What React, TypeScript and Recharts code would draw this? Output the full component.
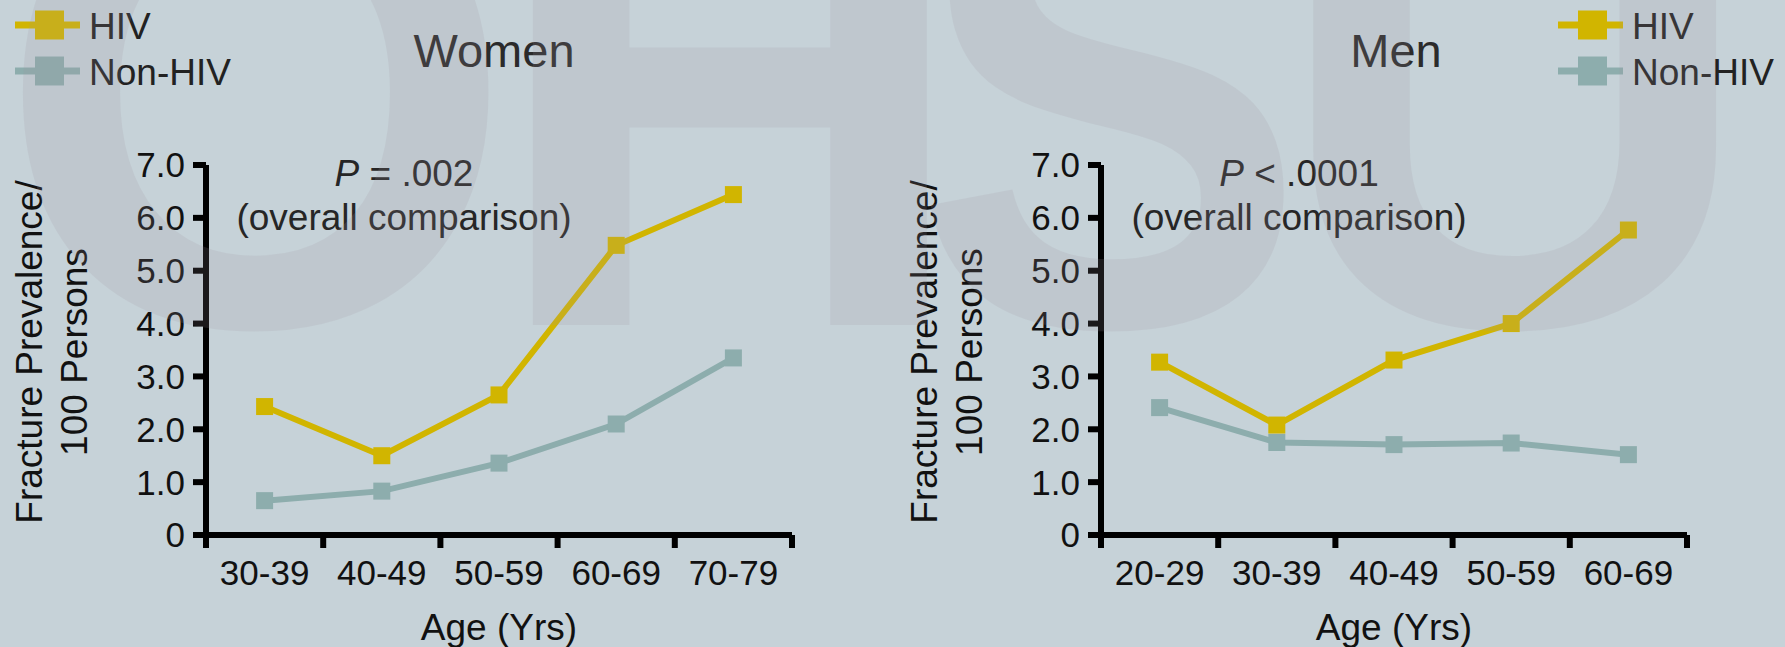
import React from "react";
import { LineChart, Line, XAxis, YAxis, Legend } from "recharts";

const HIV_COLOR = "#d1b500";
const NON_HIV_COLOR = "#8dadad";
const BG = "#c6d2d8";
const FONT = '"Liberation Sans", Arial, Helvetica, sans-serif';

const WOMEN_AGES = ["30-39", "40-49", "50-59", "60-69", "70-79"];
const WOMEN_HIV = [2.43, 1.5, 2.65, 5.48, 6.44];
const WOMEN_NON_HIV = [0.65, 0.83, 1.36, 2.1, 3.35];

const MEN_AGES = ["20-29", "30-39", "40-49", "50-59", "60-69"];
const MEN_HIV = [3.27, 2.08, 3.31, 4.0, 5.77];
const MEN_NON_HIV = [2.41, 1.75, 1.71, 1.74, 1.52];

const Y_TICKS = [0, 1, 2, 3, 4, 5, 6, 7];

const HEIGHT = 647;
const Y_AXIS_W = 206;
const PLOT_W = 586;
const PLOT_TOP = 165;
const X_AXIS_H = 112;
const BAND = PLOT_W / 5;

const toRows = (ages: string[], hiv: number[], nonHiv: number[]) =>
  ages.map((age, i) => ({ age, hiv: hiv[i], nonHiv: nonHiv[i] }));

const squareDot = (color: string) => (props: any) => {
  const { cx, cy, index } = props;
  if (cx == null || cy == null) return <g key={index} />;
  return <rect key={index} x={cx - 8.5} y={cy - 8.5} width={17} height={17} fill={color} />;
};

function AgeTick(props: any) {
  const { x, y, payload, index, last } = props;
  return (
    <g>
      <line x1={x - BAND / 2} x2={x - BAND / 2} y1={y} y2={y + 13} stroke="#000" strokeWidth={6} />
      {index === last && (
        <line x1={x + BAND / 2} x2={x + BAND / 2} y1={y} y2={y + 13} stroke="#000" strokeWidth={6} />
      )}
      <text x={x} y={y + 50} textAnchor="middle" fontSize={35} fontFamily={FONT} fill="#111">
        {payload.value}
      </text>
    </g>
  );
}

const renderLegend = (props: any) => {
  const items = [...(props.payload || [])].sort((a: any, b: any) =>
    a.value === "HIV" ? -1 : b.value === "HIV" ? 1 : 0
  );
  return (
    <div>
      {items.map((item: any) => (
        <div key={item.value} style={{ display: "flex", alignItems: "center", height: 46 }}>
          <svg width={65} height={30} style={{ display: "block" }}>
            <line x1={0} x2={65} y1={15} y2={15} stroke={item.color} strokeWidth={7} />
            <rect x={20} y={0.5} width={29} height={29} fill={item.color} />
          </svg>
          <span
            style={{
              marginLeft: 9,
              fontSize: 37,
              fontFamily: FONT,
              color: "#222",
              lineHeight: "46px",
              position: "relative",
              top: 2,
              whiteSpace: "nowrap",
            }}
          >
            {item.value}
          </span>
        </div>
      ))}
    </div>
  );
};

type PanelProps = {
  ages: string[];
  hiv: number[];
  nonHiv: number[];
  width: number;
  title: string;
  titleX: number;
  pText: string;
  legendLeft: number;
};

function Panel({ ages, hiv, nonHiv, width, title, titleX, pText, legendLeft }: PanelProps) {
  const data = toRows(ages, hiv, nonHiv);
  const last = ages.length - 1;
  return (
    <div style={{ position: "relative", width, height: HEIGHT }}>
      <LineChart
        width={width}
        height={HEIGHT}
        data={data}
        margin={{ top: PLOT_TOP, right: width - Y_AXIS_W - PLOT_W, bottom: 0, left: 0 }}
      >
        <XAxis
          dataKey="age"
          height={X_AXIS_H}
          padding={{ left: BAND / 2, right: BAND / 2 }}
          axisLine={{ stroke: "#000", strokeWidth: 6 }}
          tickLine={false}
          tickSize={0}
          tickMargin={0}
          interval={0}
          tick={(p: any) => <AgeTick {...p} last={last} />}
          label={{
            content: (p: any) => {
              const vb = p.viewBox || {};
              return (
                <text
                  x={vb.x + vb.width / 2}
                  y={vb.y + 105}
                  textAnchor="middle"
                  fontSize={37}
                  fontFamily={FONT}
                  fill="#111"
                >
                  Age (Yrs)
                </text>
              );
            },
          }}
        />
        <YAxis
          width={Y_AXIS_W}
          domain={[0, 7]}
          ticks={Y_TICKS}
          interval={0}
          axisLine={{ stroke: "#000", strokeWidth: 6 }}
          tickLine={{ stroke: "#000", strokeWidth: 6 }}
          tickSize={13}
          tickMargin={8}
          tick={{ fontSize: 35, fontFamily: FONT, fill: "#111" }}
          tickFormatter={(v: number) => (v === 0 ? "0" : v.toFixed(1))}
          label={{
            content: (p: any) => {
              const vb = p.viewBox || {};
              const cy = vb.y + vb.height / 2 + 2;
              return (
                <g fontSize={37} fontFamily={FONT} fill="#111">
                  <text transform={`translate(42,${cy}) rotate(-90)`} textAnchor="middle">
                    Fracture Prevalence/
                  </text>
                  <text transform={`translate(87,${cy}) rotate(-90)`} textAnchor="middle">
                    100 Persons
                  </text>
                </g>
              );
            },
          }}
        />
        <Legend
          layout="vertical"
          align="center"
          verticalAlign="middle"
          width={260}
          wrapperStyle={{ top: 2, left: legendLeft, bottom: "auto", right: "auto" }}
          content={renderLegend}
        />
        <Line
          name="HIV"
          dataKey="hiv"
          type="linear"
          stroke={HIV_COLOR}
          strokeWidth={6}
          dot={squareDot(HIV_COLOR)}
          activeDot={false}
          isAnimationActive={false}
        />
        <Line
          name="Non-HIV"
          dataKey="nonHiv"
          type="linear"
          stroke={NON_HIV_COLOR}
          strokeWidth={6}
          dot={squareDot(NON_HIV_COLOR)}
          activeDot={false}
          isAnimationActive={false}
        />
      </LineChart>
      <svg
        width={width}
        height={HEIGHT}
        style={{ position: "absolute", left: 0, top: 0, pointerEvents: "none" }}
      >
        <text x={titleX} y={67} textAnchor="middle" fontSize={47} fontFamily={FONT} fill="#2b2b2b">
          {title}
        </text>
        <text x={404} y={186} textAnchor="middle" fontSize={37} fontFamily={FONT} fill="#262626">
          <tspan fontStyle="italic">P</tspan>
          {pText}
        </text>
        <text x={404} y={230} textAnchor="middle" fontSize={37} fontFamily={FONT} fill="#262626">
          (overall comparison)
        </text>
      </svg>
    </div>
  );
}

// faint "OHSU" watermark laid over both panels
function Watermark() {
  const style = { fontFamily: FONT, fontWeight: 700, fontSize: 670 } as const;
  return (
    <svg
      width={1785}
      height={HEIGHT}
      style={{ position: "absolute", left: 0, top: 0, pointerEvents: "none" }}
    >
      <g fill="rgba(160,150,158,0.17)" style={style}>
        <text x={256} y={325} textAnchor="middle">O</text>
        <text x={730} y={325} textAnchor="middle">H</text>
        <text transform="translate(1110,325) scale(0.88,1)" textAnchor="middle">S</text>
        <text x={1515} y={325} textAnchor="middle">U</text>
      </g>
    </svg>
  );
}

export default function App() {
  return (
    <div
      style={{
        position: "absolute",
        left: 0,
        top: 0,
        width: 1785,
        height: HEIGHT,
        background: BG,
        overflow: "hidden",
      }}
    >
      <div style={{ position: "absolute", left: 0, top: 0 }}>
        <Panel
          ages={WOMEN_AGES}
          hiv={WOMEN_HIV}
          nonHiv={WOMEN_NON_HIV}
          width={895}
          title="Women"
          titleX={494}
          pText=" = .002"
          legendLeft={15}
        />
      </div>
      <div style={{ position: "absolute", left: 895, top: 0 }}>
        <Panel
          ages={MEN_AGES}
          hiv={MEN_HIV}
          nonHiv={MEN_NON_HIV}
          width={890}
          title="Men"
          titleX={501}
          pText=" < .0001"
          legendLeft={663}
        />
      </div>
      <Watermark />
    </div>
  );
}
